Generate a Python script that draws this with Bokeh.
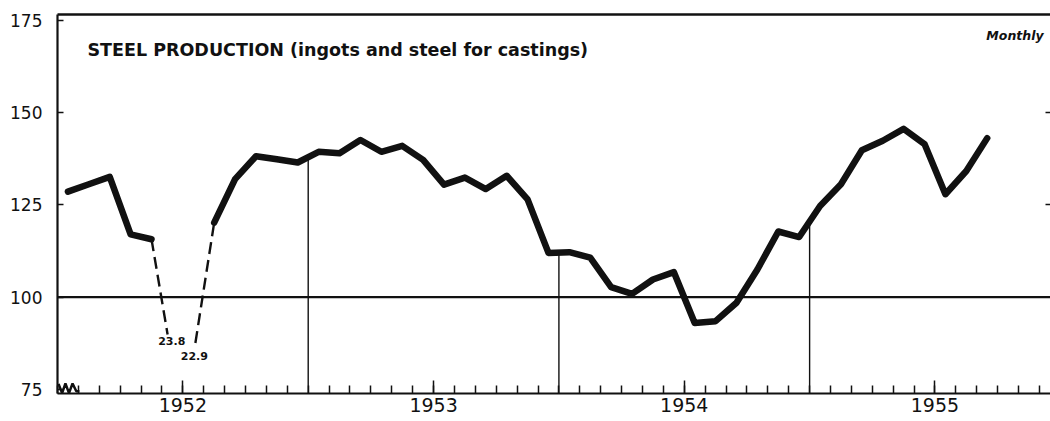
import numpy as np
from bokeh.plotting import figure
from bokeh.models import FixedTicker, LinearAxis, Span, Label, Range1d, ColumnDataSource
from bokeh.embed import file_html
from bokeh.resources import INLINE
from bokeh.core.properties import value

# ---------------- data ----------------
years = [1952, 1953, 1954, 1955]
year_labels = ["1952", "1953", "1954", "1955"]
# Steel production index, monthly, Jan 1952 .. Sep 1955 (1947-49 = 100)
steel_1952 = [128.6, 130.6, 132.6, 117.0, 115.7, 23.8, 22.9, 120.2, 132.0, 138.2, 137.4, 136.5]
steel_1953 = [139.4, 139.0, 142.6, 139.4, 141.0, 137.2, 130.5, 132.4, 129.3, 132.9, 126.5, 112.0]
steel_1954 = [112.2, 110.7, 102.7, 100.9, 104.8, 106.8, 93.0, 93.5, 98.5, 107.5, 117.8, 116.3]
steel_1955 = [124.7, 130.6, 139.8, 142.4, 145.6, 141.5, 127.9, 134.2, 143.1]
y_ticks = [75, 100, 125, 150, 175]
right_ticks = [125, 150]
reference_level = 100
title_text = "STEEL PRODUCTION (ingots and steel for castings)"
frequency_text = "Monthly"

# ---------------- style / layout ----------------
FONT = "DejaVu Sans"
Y_MIN, Y_MAX = 73.9, 176.6
X_MIN, X_MAX = 0.0, 47.53
INK = "#111111"

values = np.array(steel_1952 + steel_1953 + steel_1954 + steel_1955, dtype=float)
xc = np.arange(len(values)) + 0.5          # mid-month positions
off = values < Y_MIN                         # off-scale months (strike)
main_y = np.where(off, np.nan, values)

p = figure(width=1050, height=421,
           x_range=Range1d(X_MIN, X_MAX), y_range=Range1d(Y_MIN, Y_MAX),
           x_axis_location=None, y_axis_location=None,
           output_backend="svg", toolbar_location=None,
           min_border_left=57, min_border_right=0, min_border_top=14, min_border_bottom=28)
p.outline_line_color = None
p.background_fill_color = "white"
p.border_fill_color = "white"
for g in p.grid:
    g.visible = False

# reference line at 100
p.add_layout(Span(location=reference_level, dimension="width", line_color=INK, line_width=2.2))

# vertical lines at year boundaries, up to the curve
bounds = np.array([(y - years[0]) * 12 for y in years[1:]], dtype=float)
tops = np.interp(bounds, xc, values)
p.segment(x0=bounds, y0=[Y_MIN] * len(bounds), x1=bounds, y1=tops, line_color=INK, line_width=1.4)

# main series
p.line(xc, main_y, line_color=INK, line_width=6.5, line_join="round", line_cap="round")

# dashed connectors toward the off-scale values
DX_IN, Y_IN = -0.23, 89.9
DX_OUT, Y_OUT = 0.10, 87.6
idx = np.where(off)[0]
if len(idx):
    i0, i1 = idx[0], idx[-1]
    p.line([xc[i0 - 1], xc[i0] + DX_IN], [values[i0 - 1], Y_IN],
           line_color=INK, line_width=2.4, line_dash="12 6")
    p.line([xc[i1] + DX_OUT, xc[i1 + 1]], [Y_OUT, values[i1 + 1]],
           line_color=INK, line_width=2.4, line_dash="12 6")
    LBL_DX = [-0.03, 0.05]
    LBL_Y = [88.0, 84.1]
    src = ColumnDataSource(dict(x=[xc[i] + LBL_DX[n] for n, i in enumerate(idx)],
                                y=LBL_Y[:len(idx)],
                                t=["%.1f" % values[i] for i in idx]))
    p.text(x="x", y="y", text="t", source=src, text_font=value(FONT),
           text_font_size=value("11px"), text_font_style="bold",
           text_align="center", text_baseline="middle", text_color=INK)

# axis-break mark at lower left
zz_x = [0.05, 0.22, 0.38, 0.55, 0.72, 0.9, 1.05]
zz_y = [Y_MIN + 2.6, Y_MIN + 0.1, Y_MIN + 2.7, Y_MIN + 0.1, Y_MIN + 2.7, Y_MIN + 0.6, Y_MIN + 0.6]
p.line(zz_x, zz_y, line_color=INK, line_width=2.5)

# axes
bottom = LinearAxis(ticker=FixedTicker(ticks=[(y - years[0]) * 12 + 6 for y in years],
                                       minor_ticks=list(range(0, 48))),
                    major_label_overrides={(y - years[0]) * 12 + 6: lab for y, lab in zip(years, year_labels)},
                    major_tick_in=13, major_tick_out=0, minor_tick_in=8, minor_tick_out=0,
                    major_tick_line_width=1.5, minor_tick_line_width=1.5,
                    major_tick_line_color=INK, minor_tick_line_color=INK,
                    axis_line_width=2.2, axis_line_color=INK,
                    major_label_standoff=4, major_label_text_font=FONT,
                    major_label_text_font_size="19px", major_label_text_color=INK)
p.add_layout(bottom, "below")

left = LinearAxis(ticker=FixedTicker(ticks=y_ticks, minor_ticks=[]),
                  major_tick_in=6, major_tick_out=0, minor_tick_in=0, minor_tick_out=0,
                  major_tick_line_width=1.5, major_tick_line_color=INK,
                  axis_line_width=2.2, axis_line_color=INK,
                  major_label_standoff=15, major_label_text_font=FONT,
                  major_label_text_font_size="17px", major_label_text_color=INK)
p.add_layout(left, "left")

right = LinearAxis(ticker=FixedTicker(ticks=right_ticks, minor_ticks=[]),
                   major_label_overrides={t: "" for t in right_ticks},
                   major_tick_in=5, major_tick_out=0, minor_tick_in=0, minor_tick_out=0,
                   major_tick_line_width=1.5, major_tick_line_color=INK,
                   axis_line_color=None, major_label_standoff=0)
p.add_layout(right, "right")

top = LinearAxis(ticker=FixedTicker(ticks=[], minor_ticks=[]),
                 major_tick_in=0, major_tick_out=0, minor_tick_in=0, minor_tick_out=0,
                 axis_line_width=2.5, axis_line_color=INK, major_label_standoff=0)
p.add_layout(top, "above")

# texts
p.add_layout(Label(x=1.436, y=166.9, text=title_text, text_font=FONT, text_font_style="bold",
                   text_font_size="17.5px", text_baseline="alphabetic", text_color=INK))
p.add_layout(Label(x=47.2, y=171.0, text=frequency_text, text_font=FONT,
                   text_font_style="bold italic", text_font_size="12.5px",
                   text_align="right", text_baseline="alphabetic", text_color=INK))

open("out.html", "w").write(file_html(p, INLINE))
